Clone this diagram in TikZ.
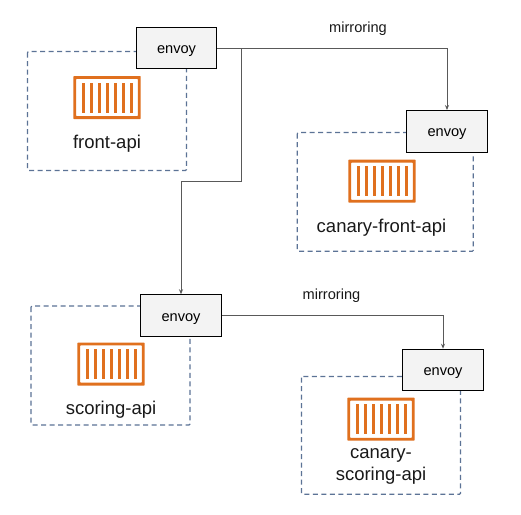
\documentclass[tikz,border=0pt]{standalone}
\usepackage{fontspec}
\setmainfont{Liberation Sans}
\usetikzlibrary{arrows.meta,calc}
\definecolor{dashblue}{HTML}{5C7396}
\definecolor{iconor}{HTML}{E0701E}
\definecolor{linegr}{HTML}{595959}
\definecolor{boxgr}{HTML}{F3F3F3}
\tikzset{
 envoybox/.style={draw=black,fill=boxgr,line width=1pt,minimum width=80.5pt,minimum height=41.5pt,inner sep=0pt,font=\fontsize{14.6}{16}\selectfont,text depth=0pt,text height=11pt},
 svcbox/.style={draw=dashblue,line width=1.2pt,dash pattern=on 5pt off 3.5pt,rounded corners=1pt},
 link/.style={draw=linegr,line width=0.9pt},
 linkarrow/.style={link,-{Stealth[length=5pt,width=4pt]}},
 lbl/.style={font=\fontsize{18.5}{22}\selectfont,align=center,inner sep=0pt,text=black!90},
 mirror/.style={font=\fontsize{14.6}{16}\selectfont,inner sep=0pt,text=black!90},
}
\newcommand{\crate}[2]{%
 \begin{scope}[shift={(#1,#2)}]
 \fill[iconor,rounded corners=0.7pt,even odd rule] (-33.7,-21.5) rectangle (33.7,21.5) (-30.9,-18.7) rectangle (30.9,18.7);
 \foreach \dx in {-24,-16,-8,0,8,16,24}
   \fill[iconor] (\dx+0.5-1.2,-15) rectangle (\dx+0.5+1.2,15);
 \end{scope}}
\begin{document}
\begin{tikzpicture}[x=1pt,y=-1pt]
\useasboundingbox (0,0) rectangle (521,514);
\fill[white] (0,0) rectangle (521,514);
% service boxes
\draw[svcbox] (27.5,51.5) rectangle (186.5,170.5);
\draw[svcbox] (297.3,132.5) rectangle (473.3,251.3);
\draw[svcbox] (31,306) rectangle (190,425);
\draw[svcbox] (301.5,376.5) rectangle (460.5,494.3);
% icons
\crate{107}{97.5}
\crate{382}{181.2}
\crate{111}{364}
\crate{381}{419.2}
% labels
\node[lbl] (t1) at (107,144) {front-api};
\node[lbl] (t2) at (381.5,228) {canary-front-api};
\node[lbl] (t3) at (111,410) {scoring-api};
\node[lbl] (t4) at (381,466.5) {canary-\\scoring-api};
% envoys
\node[envoybox] (e1) at (176.5,48) {envoy};
\node[envoybox] (e2) at (447,131.3) {envoy};
\node[envoybox] (e3) at (181,315.5) {envoy};
\node[envoybox] (e4) at (443,370) {envoy};
% connectors
\coordinate (b1) at (241,48);
\draw[linkarrow] (e1.east) -- (e2.north |- e1.east) -- (e2.north);
\draw[linkarrow] (b1) -- (241,181) -- (e3.north |- 0,181) -- (e3.north);
\draw[linkarrow] (e3.east) -- (e4.north |- e3.east) -- (e4.north);
% mirroring
\node[mirror] (m1) at (358,28.5) {mirroring};
\node[mirror] (m2) at (331.5,295.5) {mirroring};
\end{tikzpicture}
\end{document}
